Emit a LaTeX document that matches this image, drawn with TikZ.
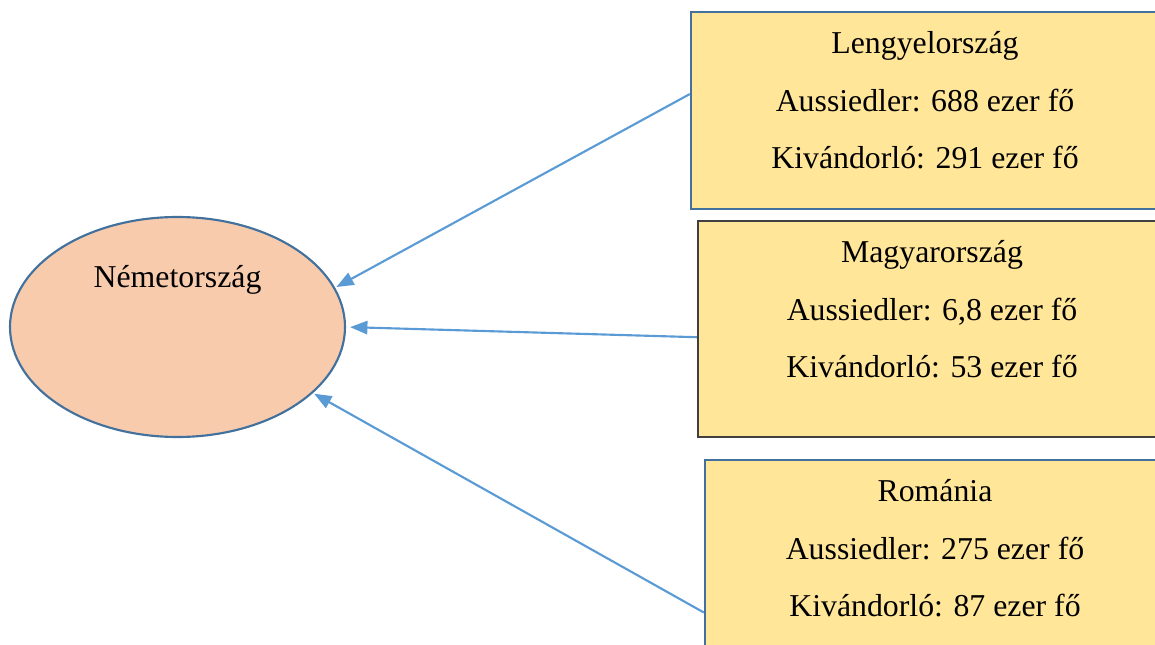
\documentclass[tikz,border=0pt]{standalone}
\usepackage{fontspec}
\setmainfont{Liberation Serif}
\usetikzlibrary{arrows.meta, positioning, shapes.geometric}
\definecolor{boxfill}{HTML}{FFE699}
\definecolor{boxblue}{HTML}{41719C}
\definecolor{boxdark}{HTML}{404040}
\definecolor{ovalfill}{HTML}{F8CBAD}
\definecolor{arrowblue}{HTML}{5B9BD5}
\newcommand*{\bigtext}{\fontsize{23.85pt}{43.1pt}\selectfont}

\begin{document}
\begin{tikzpicture}[x=0.75pt,y=-0.75pt,shorten >=1pt,>={Triangle[length=13pt,width=10pt]},
      country/.style={draw=boxblue,line width=1.8pt,fill=boxfill,minimum width=351pt,inner sep=0pt},
      figures/.style={font=\bigtext,align=center,inner sep=0pt},
      flow/.style={->,draw=arrowblue,fill=arrowblue,line width=1.6pt}]
      \clip (0,0) rectangle (1155,645);
      \node[ellipse, draw=boxblue, line width=1.6pt, fill=ovalfill, minimum width=251.25pt,
        minimum height=165pt, inner sep=0pt,
        label={[font=\bigtext,yshift=35pt]center:Németország}] (nemet) at (177.5,327) {};
      \node[country, minimum height=147.75pt] (lengyel) at (925,110.5) {};
      \node[country, draw=boxdark, minimum height=162pt] (magyar) at (932,329) {};
      \node[country, minimum width=345pt, minimum height=180pt] (roman) at (935,580) {};
      % figures inside the boxes
      \node[figures, below=15.5pt of lengyel.north] (lengyeltext)
        {Lengyelország\\Aussiedler: 688 ezer fő\\Kivándorló: 291 ezer fő};
      \node[figures, below=15.5pt of magyar.north] (magyartext)
        {Magyarország\\Aussiedler: 6,8 ezer fő\\Kivándorló: 53 ezer fő};
      \node[figures, below=15.5pt of roman.north] (romantext)
        {Románia\\Aussiedler: 275 ezer fő\\Kivándorló: 87 ezer fő};
      \draw[flow] (lengyel.176.7) -- (nemet.14.9);
      \draw[flow, shorten >=3pt] (magyar.182.2) -- (nemet.east);
      \draw[flow] (roman.188.7) -- (nemet.-26.5);
\end{tikzpicture}
\end{document}
